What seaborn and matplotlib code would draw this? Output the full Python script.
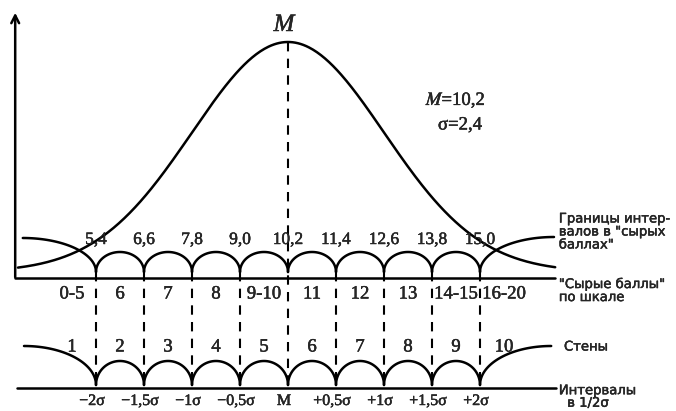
import numpy as np
import pandas as pd
import matplotlib
matplotlib.use("Agg")
import matplotlib.pyplot as plt
import matplotlib.patheffects as pe
import seaborn as sns

# ---------------- data ----------------
M = 10.2
SIGMA = 2.4
raw_bounds = [5.4, 6.6, 7.8, 9.0, 10.2, 11.4, 12.6, 13.8, 15.0]
bound_labels = ["5,4", "6,6", "7,8", "9,0", "10,2", "11,4", "12,6", "13,8", "15,0"]
raw_score_labels = ["0-5", "6", "7", "8", "9-10", "11", "12", "13", "14-15", "16-20"]
sten_labels = ["1", "2", "3", "4", "5", "6", "7", "8", "9", "10"]
sigma_labels = ["\u22122\u03c3", "\u22121,5\u03c3", "\u22121\u03c3", "\u22120,5\u03c3", "M",
                "+0,5\u03c3", "+1\u03c3", "+1,5\u03c3", "+2\u03c3"]
right_labels = ["Границы интер-\nвалов в \"сырых\nбаллах\"",
                "\"Сырые баллы\"\nпо шкале",
                "Стены",
                "Интервалы\n  в 1/2\u03c3"]

# ---------------- layout (y in px-like units, upper baseline = 0) ----------------
sns.set_style("white")
plt.rcParams["font.family"] = ["Liberation Serif", "DejaVu Serif"]
plt.rcParams["mathtext.fontset"] = "stix"

fig = plt.figure(figsize=(6.76, 4.11), dpi=100)
ax = fig.add_axes([0, 0, 1, 1])
ax.set_xlim(3.0, 19.9)
ax.set_ylim(-133, 278)
ax.axis("off")

LW = 1.8
half = (raw_bounds[1] - raw_bounds[0]) / 2
X_AXIS = 3.38
X_END = 16.9

up_base, up_cusp, up_h = 0, 6, 20
lo_base, lo_cusp, lo_h = -110, -107, 24

thick = [pe.withStroke(linewidth=0.3, foreground="black")]

# vertical axis with arrow
ax.annotate("", xy=(X_AXIS, 268), xytext=(X_AXIS, -2),
            arrowprops=dict(arrowstyle="->,head_length=0.55,head_width=0.28", lw=LW, color="k"))

# baselines
ax.plot([X_AXIS, X_END - 0.03], [up_base, up_base], color="k", lw=LW)
ax.plot([3.43, X_END], [lo_base, lo_base], color="k", lw=LW)

# bell curve
xs = np.linspace(3.45, 16.88, 400)
bell = pd.DataFrame({"x": xs, "y": 6 + 230 * np.exp(-0.5 * ((xs - M) / SIGMA) ** 2)})
sns.lineplot(data=bell, x="x", y="y", color="k", lw=LW, ax=ax, sort=False)

# humps (semi-ellipses between boundaries) + outer quarter arcs
rows = []
seg = 0
for cusp, h in [(up_cusp, up_h), (lo_cusp, lo_h)]:
    for a, b in zip(raw_bounds[:-1], raw_bounds[1:]):
        t = np.linspace(0, np.pi, 80)
        c, r = (a + b) / 2, (b - a) / 2
        for xx, yy in zip(c - r * np.cos(t), cusp + h * np.sin(t)):
            rows.append((seg, xx, yy))
        seg += 1
outer = [(raw_bounds[0], 3.57, up_cusp, 34), (raw_bounds[-1], 16.85, up_cusp, 35),
         (raw_bounds[0], 3.6, lo_cusp, 39), (raw_bounds[-1], 16.78, lo_cusp, 39)]
for bnd, xend, cusp, ry in outer:
    t = np.linspace(0, np.pi / 2, 60)
    rx = bnd - xend
    for xx, yy in zip(xend + rx * np.sin(t), cusp + ry * np.cos(t)):
        rows.append((seg, xx, yy))
    seg += 1
arcs = pd.DataFrame(rows, columns=["seg", "x", "y"])
sns.lineplot(data=arcs, x="x", y="y", units="seg", estimator=None, sort=False,
             color="k", lw=LW, ax=ax)

# dashed verticals
for b in raw_bounds:
    top = 236 if abs(b - M) < 1e-9 else up_cusp
    ax.plot([b, b], [top, lo_cusp], color="k", lw=1.5, ls=(0, (4.5, 3.5)))

ax.set_xlabel("")
ax.set_ylabel("")

# labels
for b, lab in zip(raw_bounds, bound_labels):
    ax.text(b, 38, lab, ha="center", va="center", fontsize=12.5, path_effects=thick)

mids = [raw_bounds[0] - half] + [(a + b) / 2 for a, b in zip(raw_bounds[:-1], raw_bounds[1:])] + [raw_bounds[-1] + half]
for m_, lab in zip(mids, raw_score_labels):
    ax.text(m_, -16, lab, ha="center", va="center", fontsize=13.5, path_effects=thick)
for m_, lab in zip(mids, sten_labels):
    ax.text(m_, -69, lab, ha="center", va="center", fontsize=13.5, path_effects=thick)
for b, lab in zip(raw_bounds, sigma_labels):
    ax.text(b - 0.1, -123, lab, ha="center", va="center", fontsize=11.5, path_effects=thick)

ax.text(M - 0.1, 253, "M", ha="center", va="center", fontsize=18, style="italic",
        path_effects=thick)
ax.text(14.4, 178, r"$M$=10,2", ha="center", va="center", fontsize=13.5, path_effects=thick)
ax.text(14.5, 153, "\u03c3=2,4", ha="center", va="center", fontsize=13.5, path_effects=thick)

sans = ["DejaVu Sans"]
thin = [pe.withStroke(linewidth=0.3, foreground="black")]
ax.text(16.97, 46, right_labels[0], ha="left", va="center", fontsize=9.5,
        family=sans, linespacing=1.0, path_effects=thin)
ax.text(16.97, -13, right_labels[1], ha="left", va="center", fontsize=9.5,
        family=sans, linespacing=1.0, path_effects=thin)
ax.text(17.1, -69, right_labels[2], ha="left", va="center", fontsize=9.5, family=sans,
        path_effects=thin)
ax.text(16.97, -119, right_labels[3], ha="left", va="center", fontsize=9.5,
        family=sans, linespacing=0.95, path_effects=thin)

fig.savefig("out.png", dpi=100)
